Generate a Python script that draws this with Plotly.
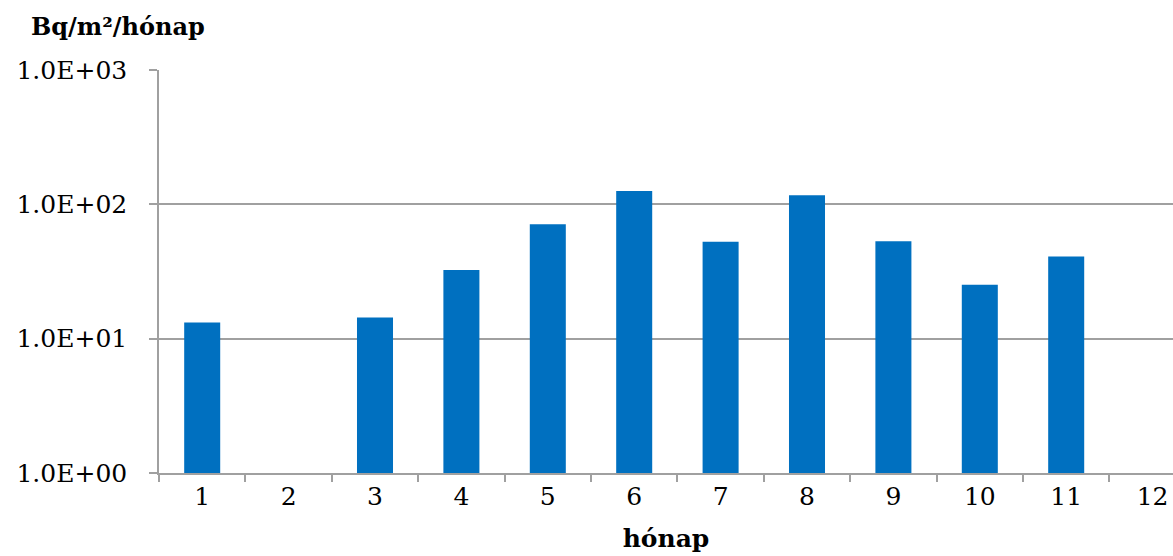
import plotly.graph_objects as go

months = ["1", "2", "3", "4", "5", "6", "7", "8", "9", "10", "11", "12"]
values = [13.2, None, 14.4, 32.5, 71.2, 125.7, 52.6, 116.8, 53.2, 25.2, 40.9, None]
ytick_vals = [1, 10, 100, 1000]
ytick_text = ["1.0E+00", "1.0E+01", "1.0E+02", "1.0E+03"]

W, H = 1173, 556
L, R, T, B = 159, 0, 70, 83
cat_px = 86.4
plot_w = W - L - R

fig = go.Figure()
fig.add_trace(go.Bar(
    x=months, y=values,
    marker=dict(color="#0070C0", line=dict(width=0)),
    showlegend=False,
))

font = "DejaVu Serif"
fig.update_layout(
    width=W, height=H,
    margin=dict(l=L, r=R, t=T, b=B),
    paper_bgcolor="white", plot_bgcolor="white",
    bargap=0.583,
    font=dict(family=font, color="black"),
    xaxis=dict(
        type="category",
        range=[-0.5, -0.5 + plot_w / cat_px],
        showline=True, linecolor="#A0A0A0", linewidth=1.5,
        ticks="outside", tickson="boundaries", ticklen=7,
        tickcolor="#A0A0A0", tickwidth=1.5,
        tickfont=dict(family=font, size=25, color="black"),
        showgrid=False,
        title=dict(text="<b>hónap</b>", font=dict(family=font, size=25, color="black"), standoff=20),
    ),
    yaxis=dict(
        type="log",
        range=[0, 3],
        tickvals=ytick_vals, ticktext=ytick_text,
        showline=True, linecolor="#A0A0A0", linewidth=1.5,
        ticks="outside", ticklen=8, tickcolor="#A0A0A0", tickwidth=1.5,
        ticklabelstandoff=17,
        tickfont=dict(family=font, size=25, color="black"),
        showgrid=True, gridcolor="#A0A0A0", gridwidth=1.5,
        zeroline=False,
    ),
    annotations=[dict(
        text="<b>Bq/m²/hónap</b>",
        xref="paper", yref="paper",
        x=(29 - L) / plot_w, y=1 + (T - 26) / (H - T - B),
        xanchor="left", yanchor="middle", showarrow=False,
        font=dict(family=font, size=24, color="black"),
    )],
)

fig.write_html("out.html")
